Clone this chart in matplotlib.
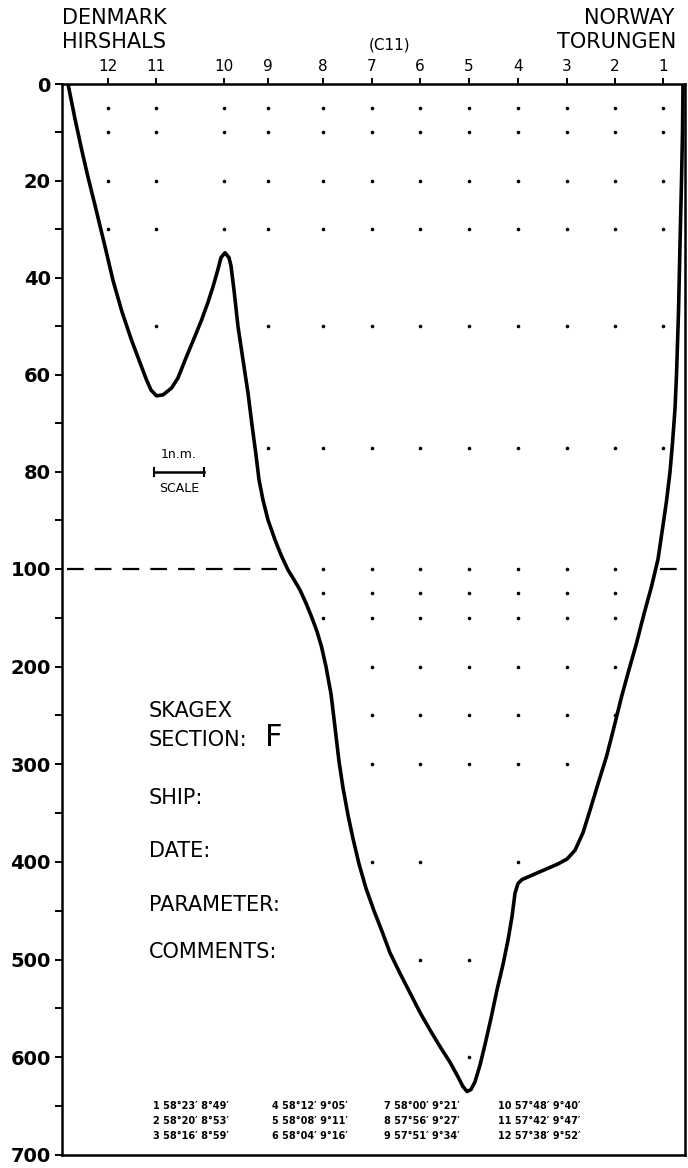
import matplotlib
matplotlib.use("Agg")
import matplotlib.pyplot as plt
import numpy as np

# stations along the section (distance in n.m. from the Danish coast)
station_ids = [12, 11, 10, 9, 8, 7, 6, 5, 4, 3, 2, 1]
station_nm = [0.92, 1.88, 3.24, 4.12, 5.22, 6.20, 7.16, 8.14, 9.12, 10.10, 11.06, 12.02]

# sampling depths (m) at each station, same order as station_ids
sample_depths = [
    [5, 10, 20, 30],
    [5, 10, 20, 30, 50],
    [5, 10, 20, 30],
    [5, 10, 20, 30, 50, 75],
    [5, 10, 20, 30, 50, 75, 100, 125, 150],
    [5, 10, 20, 30, 50, 75, 100, 125, 150, 200, 250, 300, 400],
    [5, 10, 20, 30, 50, 75, 100, 125, 150, 200, 250, 300, 400, 500],
    [5, 10, 20, 30, 50, 75, 100, 125, 150, 200, 250, 300, 500, 600],
    [5, 10, 20, 30, 50, 75, 100, 125, 150, 200, 250, 300, 400],
    [5, 10, 20, 30, 50, 75, 100, 125, 150, 200, 250, 300],
    [5, 10, 20, 30, 50, 75, 100, 125, 150, 200, 250],
    [5, 10, 20, 30, 50, 75],
]

# bottom profile
profile_nm = [0.12, 0.26, 0.39, 0.52, 0.66, 0.86, 1.02, 1.20, 1.39, 1.55, 1.69,
              1.78, 1.89, 2.02, 2.19, 2.32, 2.49, 2.64, 2.79, 2.92, 3.02, 3.12,
              3.18, 3.26, 3.34, 3.38, 3.44, 3.52, 3.62, 3.72, 3.80, 3.88, 3.94,
              4.02, 4.12, 4.26, 4.38, 4.52, 4.64, 4.76, 4.88, 4.99, 5.10, 5.19,
              5.28, 5.38, 5.46, 5.54, 5.62, 5.72, 5.82, 5.94, 6.08, 6.24, 6.40,
              6.56, 6.76, 6.96, 7.16, 7.36, 7.56, 7.76, 7.92, 8.02, 8.10, 8.18,
              8.26, 8.36, 8.46, 8.58, 8.70, 8.82, 8.92, 9.00, 9.06, 9.12, 9.20,
              9.38, 9.56, 9.74, 9.92, 10.10, 10.26, 10.42, 10.56, 10.72, 10.89,
              11.04, 11.19, 11.34, 11.49, 11.64, 11.79, 11.92, 12.02, 12.09,
              12.16, 12.21, 12.26, 12.29, 12.33, 12.36, 12.39, 12.41, 12.42]
profile_depth = [0, 7.2, 13.4, 19.2, 25, 33.5, 40.5, 47, 52.8, 57.2, 61,
                 63.1, 64.3, 64.1, 62.7, 60.6, 56.2, 52.5, 48.7, 45, 41.8, 38.2,
                 35.8, 34.8, 35.8, 37.5, 42.5, 50, 56.9, 63.7, 70.3, 76.5, 81.6,
                 85.8, 89.9, 94, 97.1, 101, 111, 121.5, 135, 148.8, 164, 179.5,
                 200, 228, 262, 297, 324, 352, 376, 402, 427, 450, 471,
                 493, 514, 534, 554, 572, 589, 605, 620, 630, 635, 633,
                 625, 608, 587, 560, 531, 505, 480, 456, 432, 422, 418,
                 414, 410, 406, 402, 397, 388, 370, 347, 320, 292,
                 262, 231, 203, 176, 146, 118, 98, 91, 86,
                 80, 74, 67, 60, 47, 33, 20, 10, 0]

major_depths = [0, 20, 40, 60, 80, 100, 200, 300, 400, 500, 600, 700]
minor_depths = [10, 30, 50, 70, 90, 150, 250, 350, 450, 550, 650]

table_rows = [
    ["1 58°23′ 8°49′", "4 58°12′ 9°05′", "7 58°00′ 9°21′", "10 57°48′ 9°40′"],
    ["2 58°20′ 8°53′", "5 58°08′ 9°11′", "8 57°56′ 9°27′", "11 57°42′ 9°47′"],
    ["3 58°16′ 8°59′", "6 58°04′ 9°16′", "9 57°51′ 9°34′", "12 57°38′ 9°52′"],
]
form_fields = ["SHIP:", "DATE:", "PARAMETER:", "COMMENTS:"]

W, H = 688, 1168
K = 0.2014  # below 100 m the depth axis is compressed


def fwd(d):
    d = np.asarray(d, dtype=float)
    return np.where(d <= 100, d, 100 + (d - 100) * K)


def inv(v):
    v = np.asarray(v, dtype=float)
    return np.where(v <= 100, v, 100 + (v - 100) / K)


def fx(x):
    return x / W


def fy(y):
    return 1 - y / H


plt.rcParams['font.family'] = ['DejaVu Sans']
fig = plt.figure(figsize=(W / 100, H / 100), dpi=100)
ax = fig.add_axes([fx(62), fy(1155), fx(685 - 62), (1155 - 84) / H])

ax.set_yscale('function', functions=(fwd, inv))
ax.set_ylim(700, 0)
ax.set_xlim(0, (685 - 62) / 50)

ax.plot(profile_nm, profile_depth, color='black', lw=2.6,
        solid_joinstyle='round', solid_capstyle='round')

for x, depths in zip(station_nm, sample_depths):
    ax.plot([x] * len(depths), depths, 'o', color='black', ms=2.6, mew=0)

# 100 m reference line outside the section
ax.plot([0.1, 4.3], [100, 100], color='black', lw=1.6, ls=(0, (7.5, 5)))
ax.plot([11.95, 12.46], [100, 100], color='black', lw=1.6, ls=(0, (7.5, 5)))

ax.set_yticks(major_depths)
ax.set_yticklabels([str(d) for d in major_depths], fontweight='bold')
ax.set_yticks(minor_depths, minor=True)
ax.tick_params(axis='y', which='both', direction='out', length=5, width=1.4,
               pad=3, labelsize=14)

ax.xaxis.tick_top()
ax.set_xticks(station_nm)
ax.set_xticklabels([str(s) for s in station_ids])
ax.tick_params(axis='x', direction='out', length=4, width=1.4, pad=3,
               labelsize=11)
ax.xaxis.set_minor_locator(matplotlib.ticker.NullLocator())

for s in ax.spines.values():
    s.set_linewidth(1.8)

# scale bar
ax.plot([1.84, 2.84], [80, 80], color='black', lw=1.8, marker='|', ms=7, mew=1.5)
fig.text(fx(179), fy(455), "1n.m.", ha='center', va='center', fontsize=9)
fig.text(fx(179), fy(489), "SCALE", ha='center', va='center', fontsize=9)

fig.text(fx(62), fy(18), "DENMARK", ha='left', va='center', fontsize=15)
fig.text(fx(62), fy(42), "HIRSHALS", ha='left', va='center', fontsize=15)
fig.text(fx(674), fy(18), "NORWAY", ha='right', va='center', fontsize=15)
fig.text(fx(676), fy(42), "TORUNGEN", ha='right', va='center', fontsize=15)
fig.text(fx(390), fy(45), "(C11)", ha='center', va='center', fontsize=11)

fig.text(fx(149), fy(711), "SKAGEX", ha='left', va='center', fontsize=15)
fig.text(fx(149), fy(740), "SECTION:", ha='left', va='center', fontsize=15)
fig.text(fx(265), fy(737), "F", ha='left', va='center', fontsize=22)
for label, y in zip(form_fields, [798, 851, 905, 952]):
    fig.text(fx(149), fy(y), label, ha='left', va='center', fontsize=15)

for r, row in enumerate(table_rows):
    for c, txt in enumerate(row):
        fig.text(fx([153, 272, 384, 498][c]), fy(1106 + 15 * r), txt,
                 ha='left', va='center', fontsize=7, fontweight='bold')

fig.savefig("out.png", dpi=100)
